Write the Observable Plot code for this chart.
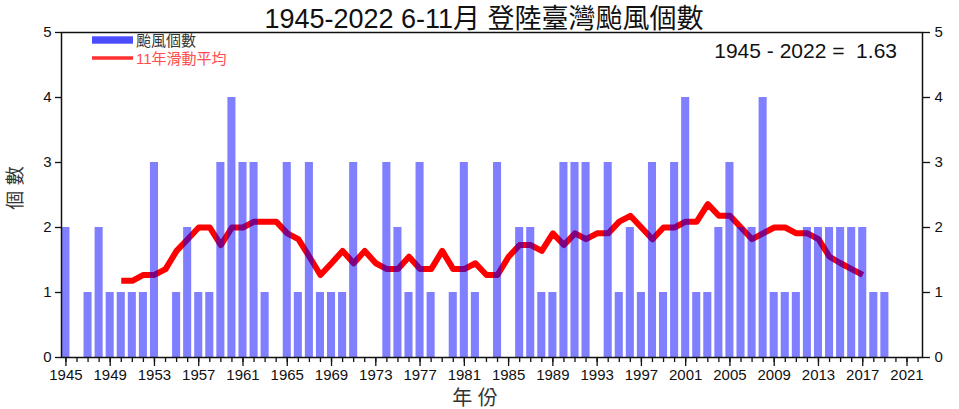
<!DOCTYPE html>
<html><head><meta charset="utf-8">
<script src="https://cdn.jsdelivr.net/npm/d3@7"></script>
<script src="https://cdn.jsdelivr.net/npm/@observablehq/plot@0.6"></script>
<style>
body{margin:0;background:#fff;}
#wrap{width:959px;height:409px;}
</style></head><body>
<div id="wrap"></div>
<script>
const years = [1945,1946,1947,1948,1949,1950,1951,1952,1953,1954,1955,1956,1957,1958,1959,1960,1961,1962,1963,1964,1965,1966,1967,1968,1969,1970,1971,1972,1973,1974,1975,1976,1977,1978,1979,1980,1981,1982,1983,1984,1985,1986,1987,1988,1989,1990,1991,1992,1993,1994,1995,1996,1997,1998,1999,2000,2001,2002,2003,2004,2005,2006,2007,2008,2009,2010,2011,2012,2013,2014,2015,2016,2017,2018,2019,2020,2021,2022];
const counts = [2,0,1,2,1,1,1,1,3,0,1,2,1,1,3,4,3,3,1,0,3,1,3,1,1,1,3,0,0,3,2,1,3,1,0,1,3,1,0,3,0,2,2,1,1,3,3,3,0,3,1,2,1,3,1,3,4,1,1,2,3,2,2,4,1,1,1,2,2,2,2,2,2,1,1,0,0,0];
const maYears = [1950,1951,1952,1953,1954,1955,1956,1957,1958,1959,1960,1961,1962,1963,1964,1965,1966,1967,1968,1969,1970,1971,1972,1973,1974,1975,1976,1977,1978,1979,1980,1981,1982,1983,1984,1985,1986,1987,1988,1989,1990,1991,1992,1993,1994,1995,1996,1997,1998,1999,2000,2001,2002,2003,2004,2005,2006,2007,2008,2009,2010,2011,2012,2013,2014,2015,2016,2017];
const maValues = [1.18,1.18,1.27,1.27,1.36,1.64,1.82,2.00,2.00,1.73,2.00,2.00,2.09,2.09,2.09,1.91,1.82,1.55,1.27,1.45,1.64,1.45,1.64,1.45,1.36,1.36,1.55,1.36,1.36,1.64,1.36,1.36,1.45,1.27,1.27,1.55,1.73,1.73,1.64,1.91,1.73,1.91,1.82,1.91,1.91,2.09,2.18,2.00,1.82,2.00,2.00,2.09,2.09,2.36,2.18,2.18,2.00,1.82,1.91,2.00,2.00,1.91,1.91,1.82,1.55,1.45,1.36,1.27];
const xTickLabels = [1945,1949,1953,1957,1961,1965,1969,1973,1977,1981,1985,1989,1993,1997,2001,2005,2009,2013,2017,2021];
const yTicks = [0,1,2,3,4,5];
const titleText = "1945-2022 6-11月 登陸臺灣颱風個數";
const meanText = "1945 - 2022 =  1.63";
const legendBar = "颱風個數";
const legendLine = "11年滑動平均";
const xLabel = "年 份";
const yLabel = "個 數";

const bars = years.map((y, i) => ({year: y, count: counts[i]})).filter(d => d.count > 0);
const ma = maYears.map((y, i) => ({year: y, value: maValues[i]}));

const font = "'Liberation Sans', Arial, 'Noto Sans CJK TC', sans-serif";
const chart = Plot.plot({
  width: 959, height: 409,
  marginLeft: 61, marginRight: 37, marginTop: 32, marginBottom: 52,
  x: {domain: [1944.6, 2022.4]},
  y: {domain: [0, 5]},
  style: {fontFamily: font, fontSize: "15px", color: "#111", background: "white", overflow: "visible"},
  marks: [
    Plot.lineY(ma, {x: "year", y: "value", stroke: "#ff0000", strokeWidth: 6, strokeLinejoin: "round", strokeLinecap: "butt"}),
    Plot.rectY(bars, {x1: d => d.year - 0.5, x2: d => d.year + 0.5, y: "count", fill: "#0000ff", fillOpacity: 0.5, insetLeft: 1.5, insetRight: 1.5}),
    Plot.axisX({ticks: years, tickSize: 5, tickFormat: () => "", label: null, strokeWidth: 1.3}),
    Plot.axisX({ticks: xTickLabels, tickSize: 9, tickPadding: 3, tickFormat: d => String(d), label: null, strokeWidth: 1.3}),
    Plot.axisY({anchor: "left", ticks: yTicks, tickSize: 6, tickPadding: 4, tickFormat: d => String(d), label: null, strokeWidth: 1.3}),
    Plot.axisY({anchor: "right", ticks: yTicks, tickSize: 7, tickPadding: 5, tickFormat: d => String(d), label: null, strokeWidth: 1.3}),
    Plot.frame({stroke: "#111", strokeWidth: 1.5})
  ]
});
document.getElementById("wrap").appendChild(chart);

const svg = d3.select(chart);
const g = svg.append("g").attr("font-family", font).attr("text-anchor", "start");
g.append("text").attr("x", 484).attr("y", 28).attr("text-anchor", "middle")
  .attr("font-size", 27).attr("fill", "#111").text(titleText);
g.append("text").attr("x", 897).attr("y", 58).attr("text-anchor", "end")
  .attr("font-size", 21).attr("fill", "#111").text(meanText);
g.append("rect").attr("x", 92).attr("y", 36.3).attr("width", 41).attr("height", 7.4).attr("fill", "#4b4bff");
g.append("text").attr("x", 136).attr("y", 45.5).attr("text-anchor", "start").attr("font-size", 15).attr("fill", "#333").text(legendBar);
g.append("line").attr("x1", 92).attr("x2", 133).attr("y1", 58).attr("y2", 58).attr("stroke", "#ff3030").attr("stroke-width", 3.5);
g.append("text").attr("x", 136).attr("y", 63.5).attr("text-anchor", "start").attr("font-size", 15).attr("fill", "#ff4d4d").text(legendLine);
g.append("text").attr("x", 475).attr("y", 405).attr("text-anchor", "middle")
  .attr("font-size", 20).attr("fill", "#333").text(xLabel);
g.append("text").attr("transform", "translate(22,188) rotate(-90)").attr("text-anchor", "middle")
  .attr("font-size", 19).attr("fill", "#333").text(yLabel);
</script>
</body></html>
